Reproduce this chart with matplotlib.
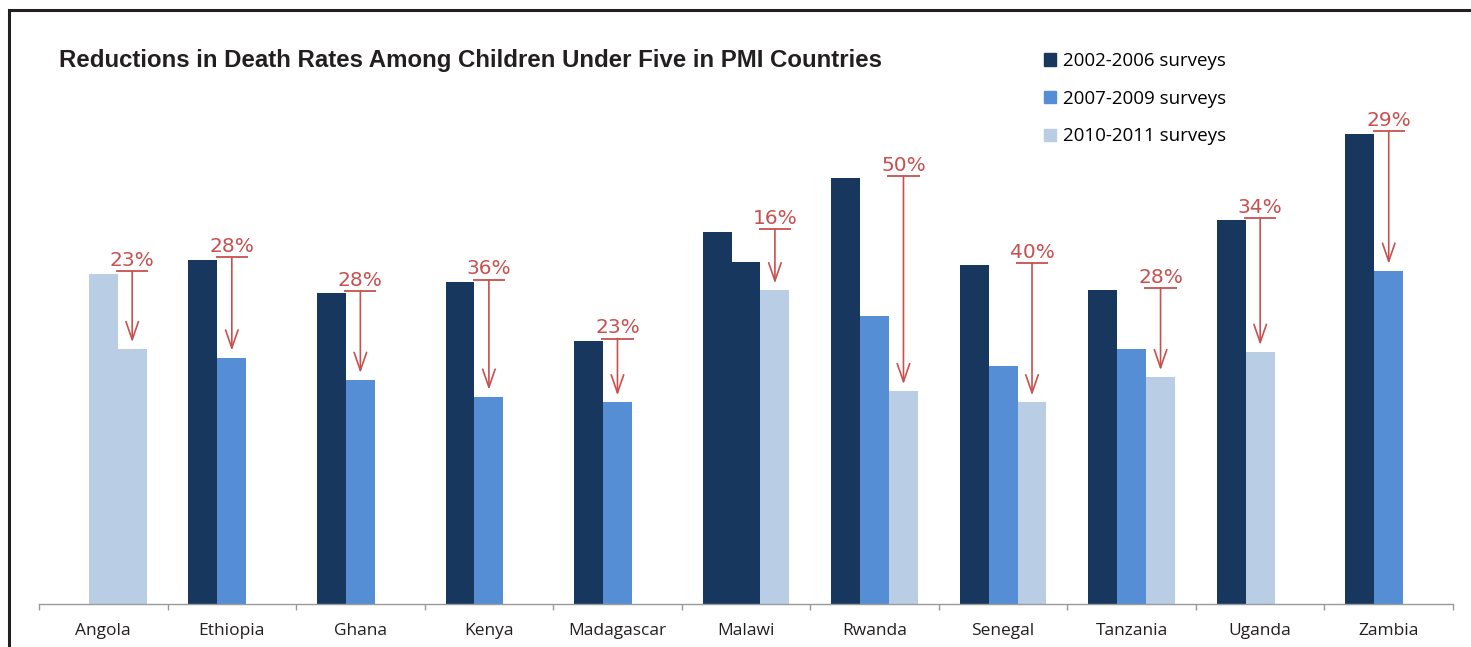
import matplotlib
matplotlib.use("Agg")
import matplotlib.pyplot as plt
from matplotlib.patches import Patch, Rectangle
import numpy as np

# under-five deaths per 1,000 live births
countries = ["Angola", "Ethiopia", "Ghana", "Kenya", "Madagascar", "Malawi",
             "Rwanda", "Senegal", "Tanzania", "Uganda", "Zambia"]
# three bar slots per country (None = no bar in that slot)
slot0 = [None, 123, 111, 115, 94, 133, 152, 121, 112, 137, 168]
slot1 = [118, 88, 80, 74, 72, 122, 103, 85, 91, 90, 119]
slot2 = [91, None, None, None, None, 112, 76, 72, 81, None, None]
# which survey colour each slot uses
slot0_series = ["d"] * 11
slot1_series = ["l", "m", "m", "m", "m", "d", "m", "m", "m", "l", "m"]
slot2_series = ["l"] * 11
reductions = ["23%", "28%", "28%", "36%", "23%", "16%", "50%", "40%", "28%", "34%", "29%"]

series_labels = {"d": "2002-2006 surveys", "m": "2007-2009 surveys", "l": "2010-2011 surveys"}
series_colors = {"d": "#17375e", "m": "#558ed5", "l": "#b9cde5"}
red = "#c8504f"

fig = plt.figure(figsize=(14.71, 6.47), dpi=100)
W, H = 1471, 647
ax = fig.add_axes([39 / W, (H - 604) / H, 1414 / W, 504 / H])

x = np.arange(len(countries))
w = 0.225
slots = [slot0, slot1, slot2]
slot_series = [slot0_series, slot1_series, slot2_series]
for k in range(3):
    for i in range(len(countries)):
        v = slots[k][i]
        if v is None:
            continue
        ax.bar(x[i] + (k - 1) * w, v, width=w, color=series_colors[slot_series[k][i]],
               linewidth=0)

# reduction brackets: from first bar level down to the last bar
for i in range(len(countries)):
    vals = [(k, slots[k][i]) for k in range(3) if slots[k][i] is not None]
    first = vals[0][1]
    klast, last = vals[-1]
    xc = x[i] + (klast - 1) * w
    ytop = first + 0.8
    ax.plot([xc - 0.125, xc + 0.125], [ytop, ytop], color=red, lw=1.3, solid_capstyle="butt")
    ax.annotate("", xy=(xc, last + 2.5), xytext=(xc, ytop),
                arrowprops=dict(arrowstyle="->,head_length=1.3,head_width=0.45",
                                color=red, lw=1.2, mutation_scale=10, shrinkA=0, shrinkB=0))
    ax.text(xc, ytop + 0.5, reductions[i], ha="center", va="bottom", color=red,
            fontsize=14.5, family="DejaVu Sans")

ax.set_xlim(-0.5, len(countries) - 0.5)
ax.set_ylim(0, 180)
ax.set_yticks([])
for s in ["left", "right", "top"]:
    ax.spines[s].set_visible(False)
ax.spines["bottom"].set_color("#9a9a9a")
ax.spines["bottom"].set_linewidth(1.0)
ax.set_xticks(x)
ax.set_xticklabels(countries, fontsize=12.5, color="#231f20", family="Open Sans")
ax.tick_params(axis="x", which="major", length=0, pad=14)
ax.set_xticks(np.arange(-0.5, len(countries)), minor=True)
ax.tick_params(axis="x", which="minor", length=4, color="#9a9a9a", width=1.0)

fig.text(59 / W, 1 - 61 / H, "Reductions in Death Rates Among Children Under Five in PMI Countries",
         fontsize=17.3, fontweight="bold", family="Liberation Sans", color="#231f20", va="center")

handles = [Patch(color=series_colors[k], label=series_labels[k]) for k in ["d", "m", "l"]]
fig.legend(handles=handles, loc="upper left", bbox_to_anchor=(1044 / W, 1 - 52 / H),
           frameon=False, handlelength=0.65, handleheight=0.65,
           handletextpad=0.35, labelspacing=1.05, borderpad=0, borderaxespad=0,
           prop={"family": "Open Sans", "size": 13.5})

# frame round the figure (left and top edges visible)
fig.add_artist(Rectangle((9 / W, -0.1), 2, 1.1 - 10 / H, transform=fig.transFigure,
                         fill=False, edgecolor="#231f20", lw=2.2))

fig.savefig("out.png", dpi=100)
